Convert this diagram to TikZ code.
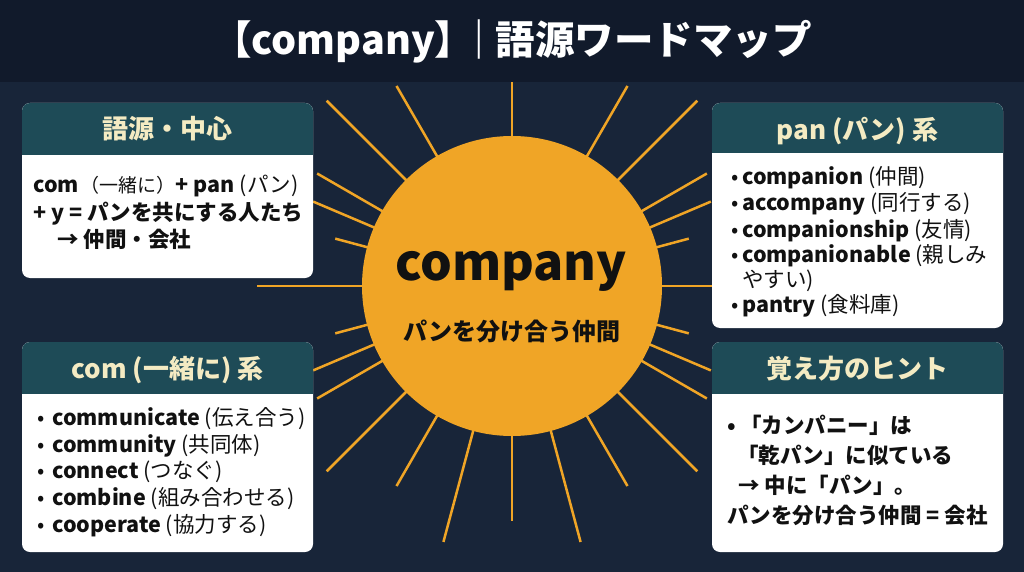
\documentclass[tikz,border=0pt]{standalone}
\usepackage{fontspec}
\setmainfont{Noto Sans CJK JP}
\usetikzlibrary{calc}
\definecolor{bgc}{HTML}{182539}
\definecolor{barc}{HTML}{111A2B}
\definecolor{hdrc}{HTML}{1E4B57}
\definecolor{cream}{HTML}{F4EBC3}
\definecolor{sunc}{HTML}{F0A526}
\definecolor{ink}{HTML}{111111}
\newcommand\bul[1]{\makebox[#1pt][l]{•}}
\newcommand\cardbox[5]{%
  \fill[white, rounded corners=8pt] (#1,#2) rectangle (#3,#5);
  \begin{scope}
    \clip (#1-1,#2-1) rectangle (#3+1,#4);
    \fill[hdrc, rounded corners=8pt] (#1,#2) rectangle (#3,#5);
  \end{scope}}
\tikzset{
  ray/.style={draw=sunc, line width=2.5pt},
  hdr/.style={anchor=base, inner sep=0pt, text=cream, font=\fontsize{26}{26}\selectfont\bfseries},
  body/.style={anchor=base west, inner sep=0pt, text=ink, font=\fontsize{21.5}{21.5}\selectfont},
  hint/.style={anchor=base west, inner sep=0pt, text=ink, font=\fontsize{21.5}{21.5}\selectfont\bfseries},
}
\begin{document}
\begin{tikzpicture}[x=1pt,y=-1pt]
\useasboundingbox (0,0) rectangle (1024,572);
\fill[bgc] (0,0) rectangle (1024,572);
\coordinate (c) at (512,286);
% rays
\foreach \a/\r in {45/262, 60/231, 90/210, 120/231, 135/262, 150/225, 157/216, 165/183,
  180/255, 195/183, 203/216, 210/225, 225/262, 240/231, 255/265, 270/235, 285/265,
  300/231, 315/262, 330/225, 337/216, 345/183, 0/255, 15/183, 23/216, 30/225}
  \draw[ray] ($(c)+(\a:140pt)$) -- ($(c)+(\a:\r pt)$);
% title bar
\fill[barc] (0,0) rectangle (1024,82);
\node[anchor=base, inner sep=0pt, text=white, font=\fontsize{39.5}{39.5}\selectfont\bfseries] (title) at (512,55) {【company】\hspace{-15pt}｜\hspace{-3pt}語源ワードマップ};
% sun
\node[circle, fill=sunc, minimum size=300pt, inner sep=0pt] (sun) at (c) {};
\node[anchor=base, inner sep=0pt, text=ink, font=\fontsize{50}{50}\selectfont\bfseries] (word) at (511,280) {company};
\node[anchor=base, inner sep=0pt, text=ink, font=\fontsize{24}{24}\selectfont\bfseries] (tag) at (512,340) {パンを分け合う仲間};
% boxes
\cardbox{22}{103}{313}{155}{278}
\cardbox{712}{103}{1003}{153}{328}
\cardbox{22}{342}{313}{393}{552}
\cardbox{712}{342}{1003}{393}{552}
% headers
\node[hdr] (h1) at (167.5,139) {語源・中心};
\node[hdr] (h2) at (857.5,140) {pan (パン) 系};
\node[hdr] (h3) at (167.5,378) {com (一緒に) 系};
\node[hdr] (h4) at (857.5,378) {覚え方のヒント};
% box 1
\node[body] (a1) at (33,193) {\textbf{com}\hspace{2pt}{\fontsize{19}{19}\selectfont（一緒に）}\textbf{+ pan} (パン)};
\node[body] (a2) at (33,220) {\textbf{+ y = パンを共にする人たち}};
\node[body] (a3) at (57,247) {\textbf{→ 仲間・会社}};
% box 2
\node[body] (b1) at (731,185) {\bul{11}\textbf{companion} (仲間)};
\node[body] (b2) at (731,210) {\bul{11}\textbf{accompany} (同行する)};
\node[body] (b3) at (731,237) {\bul{11}\textbf{companionship} (友情)};
\node[body] (b4) at (731,262) {\bul{11}\textbf{companionable} (親しみ};
\node[body] (b5) at (742,287) {やすい)};
\node[body] (b6) at (731,312) {\bul{11}\textbf{pantry} (食料庫)};
% box 3
\node[body] (c1) at (37,425) {\bul{15}\textbf{communicate} (伝え合う)};
\node[body] (c2) at (37,452) {\bul{15}\textbf{community} (共同体)};
\node[body] (c3) at (37,478) {\bul{15}\textbf{connect} (つなぐ)};
\node[body] (c4) at (37,505) {\bul{15}\textbf{combine} (組み合わせる)};
\node[body] (c5) at (37,532) {\bul{15}\textbf{cooperate} (協力する)};
% box 4
\node[hint] (d1) at (727,433) {\bul{13}「カンパニー」は};
\node[hint] (d2) at (737,463) {「乾パン」に似ている};
\node[hint] (d3) at (738,493) {→ 中に「パン」。};
\node[hint] (d4) at (727,523) {パンを分け合う仲間 = 会社};
\end{tikzpicture}
\end{document}
